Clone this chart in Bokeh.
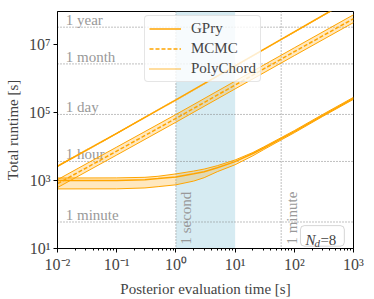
import numpy as np
from bokeh.plotting import figure
from bokeh.models import (Span, BoxAnnotation, Label, Legend, LegendItem,
                          FixedTicker, ColumnDataSource)
from bokeh.core.properties import value
from bokeh.embed import file_html
from bokeh.resources import INLINE

# ---- data ----
gpry_x = [0.01, 0.1, 0.3, 0.5, 1, 2, 3, 5, 10, 20, 30, 60, 100, 300, 1000]
gpry_mid = [1000, 1000, 1050, 1130, 1260, 1560, 1800, 2350, 3550, 6150, 8800,
            16800, 27000, 80000, 257000]
gpry_hi = [1175, 1185, 1230, 1320, 1550, 1880, 2150, 2700, 3980, 6600, 9500,
           18000, 29000, 86000, 275000]
gpry_lo = [562, 565, 600, 655, 741, 955, 1200, 1800, 2880, 5300, 7900,
           15400, 25000, 75000, 240000]

mcmc_x = [0.01, 0.1, 1, 10, 100, 1000]
mcmc_mid = [800, 7240, 66000, 630000, 6.0e6, 5.6e7]
mcmc_hi = [1050, 9500, 86000, 820000, 7.8e6, 7.3e7]
mcmc_lo = [615, 5550, 51000, 485000, 4.6e6, 4.3e7]

pc_x = [0.01, 0.1, 1, 10, 100, 1000]
pc_y = [2600, 24000, 230000, 2.3e6, 2.3e7, 2.3e8]

unit_names = ["1 minute", "1 hour", "1 day", "1 month", "1 year"]
unit_seconds = [60, 3600, 86400, 2.63e6, 3.156e7]

x_ticks = [1e-2, 1e-1, 1e0, 1e1, 1e2, 1e3]
x_tick_labels = ["10\u207b\u00b2", "10\u207b\u00b9", "10\u2070", "10\u00b9",
                 "10\u00b2", "10\u00b3"]
y_ticks = [1e1, 1e3, 1e5, 1e7]
y_tick_labels = ["10\u00b9", "10\u00b3", "10\u2075", "10\u2077"]

ORANGE = "#FFA500"
SERIF = "Liberation Serif"
GRAY = "#999999"

p = figure(width=366, height=299, x_axis_type="log", y_axis_type="log",
           x_range=(1e-2, 1e3), y_range=(10, 9.1e7),
           output_backend="svg", toolbar_location=None,
           min_border_top=11, min_border_right=13, min_border_left=57,
           min_border_bottom=50)
p.grid.visible = False
p.outline_line_color = "black"
p.outline_line_alpha = 1

# blue shaded region (1 s to 10 s)
p.add_layout(BoxAnnotation(left=1, right=10, fill_color="lightblue",
                           fill_alpha=0.5, line_alpha=0, level="underlay"))

# reference dotted lines
for s in unit_seconds:
    p.add_layout(Span(location=s, dimension="width", line_color="gray",
                      line_dash="1 2", line_width=1, level="underlay"))
for s in [1, 60]:
    p.add_layout(Span(location=s, dimension="height", line_color="gray",
                      line_dash="1 2", line_width=1, level="underlay"))

# unit labels
src_units = ColumnDataSource(dict(x=[0.0138] * len(unit_names), y=unit_seconds,
                                  t=unit_names))
p.text(x="x", y="y", text="t", source=src_units, text_color=GRAY,
       text_font=value(SERIF), text_font_size="15px", text_baseline="bottom",
       text_align="left", y_offset=1)
src_v = ColumnDataSource(dict(x=[1.1, 66], y=[13, 13], t=["1 second", "1 minute"]))
p.text(x="x", y="y", text="t", source=src_v, text_color=GRAY,
       text_font=value(SERIF), text_font_size="15px", angle=np.pi / 2,
       text_align="left", text_baseline="top")

# GPry band
p.varea(x=gpry_x, y1=gpry_lo, y2=gpry_hi, fill_color=ORANGE, fill_alpha=0.25)
p.line(gpry_x, gpry_lo, line_color=ORANGE, line_width=1)
p.line(gpry_x, gpry_hi, line_color=ORANGE, line_width=1)
r_gpry = p.line(gpry_x, gpry_mid, line_color=ORANGE, line_width=1.5)

# MCMC band
p.varea(x=mcmc_x, y1=mcmc_lo, y2=mcmc_hi, fill_color=ORANGE, fill_alpha=0.25)
p.line(mcmc_x, mcmc_lo, line_color=ORANGE, line_width=1)
p.line(mcmc_x, mcmc_hi, line_color=ORANGE, line_width=1)
r_mcmc = p.line(mcmc_x, mcmc_mid, line_color=ORANGE, line_width=1.5,
                line_dash="4 2")

# PolyChord
p.line(pc_x, pc_y, line_color=ORANGE, line_width=1.5)
r_pc = p.line(pc_x, pc_y, line_color=ORANGE, line_width=1.5, line_dash="1 1")

legend = Legend(items=[LegendItem(label="GPry", renderers=[r_gpry]),
                       LegendItem(label="MCMC", renderers=[r_mcmc]),
                       LegendItem(label="PolyChord", renderers=[r_pc])],
                location=(87, 166), glyph_width=32, glyph_height=17,
                label_standoff=10, label_height=17, spacing=3, padding=4,
                margin=0, border_line_color="#cccccc", border_radius=4,
                background_fill_alpha=0.8)
legend.label_text_font = SERIF
legend.label_text_font_style = "normal"
legend.label_text_font_size = "15px"
p.add_layout(legend)

# N_d box
p.add_layout(BoxAnnotation(left=127, right=700, bottom=11.7, top=47,
                           fill_color="white", fill_alpha=0.9,
                           line_color="#777777", line_width=1, border_radius=4))
p.add_layout(Label(x=154, y=18.3, text="N", text_font=SERIF,
                   text_font_style="italic", text_font_size="15px",
                   text_baseline="alphabetic"))
p.add_layout(Label(x=154, y=18.3, x_offset=9, y_offset=-3, text="d",
                   text_font=SERIF, text_font_style="italic",
                   text_font_size="11px", text_baseline="alphabetic"))
p.add_layout(Label(x=154, y=18.3, x_offset=15, text="=8", text_font=SERIF,
                   text_font_size="15px", text_baseline="alphabetic"))

# axes
p.xaxis.ticker = FixedTicker(ticks=x_ticks,
                             minor_ticks=[k * 10.0 ** e for e in range(-2, 3)
                                          for k in range(2, 10)])
p.yaxis.ticker = FixedTicker(ticks=y_ticks, minor_ticks=[])
p.xaxis.major_label_overrides = dict(zip(x_ticks, x_tick_labels))
p.yaxis.major_label_overrides = dict(zip(y_ticks, y_tick_labels))
p.xaxis.axis_label = "Posterior evaluation time [s]"
p.yaxis.axis_label = "Total runtime [s]"
for ax in (p.xaxis, p.yaxis):
    ax.axis_label_text_font = SERIF
    ax.axis_label_text_font_style = "normal"
    ax.axis_label_text_font_size = "15px"
    ax.major_label_text_font = SERIF
    ax.major_label_text_font_size = "16px"
    ax.axis_line_color = "black"
    ax.major_tick_line_color = "black"
    ax.minor_tick_line_color = "black"
    ax.major_tick_in = 0
    ax.major_tick_out = 4
    ax.minor_tick_in = 0
    ax.minor_tick_out = 2
    ax.major_label_standoff = 3
    ax.axis_label_standoff = 5

open("out.html", "w").write(file_html(p, INLINE))
